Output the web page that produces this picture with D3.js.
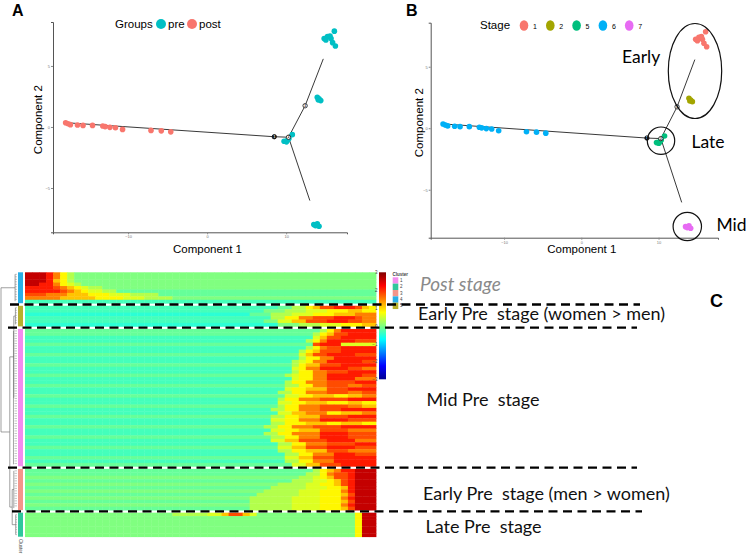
<!DOCTYPE html>
<html>
<head>
<meta charset="utf-8">
<script src="https://cdn.jsdelivr.net/npm/d3@7"></script>
<style>
body { margin: 0; background: #fff; }
svg { display: block; font-family: "Liberation Sans", Arial, sans-serif; }
</style>
</head>
<body>
<svg id="fig" width="748" height="555"></svg>
<script>
// cells placed on the trajectory
var cellX = [-17.9, -17.6, -17.3, -16.4, -15.7, -14.5, -13.2, -12.9, -12.3, -11.6, -10.7, -7.1, -5.8, -4.6,
  9.74, 10.04, 10.35, 10.78, 10.17,
  13.94, 14.16, 14.38, 14.06,
  14.81, 15.23, 15.68, 16.1, 15.88, 16.23, 15.55, 15.03,
  13.5, 13.94, 14.16, 13.72];
var cellY = [0.35, 0.26, 0.19, 0.16, 0.13, 0.13, 0.08, 0.03, -0.03, -0.06, -0.2, -0.28, -0.32, -0.4,
  -1.17, -1.22, -0.95, -0.63, -1.09,
  2.44, 2.3, 2.16, 2.22,
  7.24, 7.4, 7.24, 7.85, 6.91, 6.63, 7.45, 7.12,
  -8.0, -7.94, -8.13, -8.08];
var cellStage = ['6','6','6','6','6','6','6','6','6','6','6','6','6','6',
  '5','5','5','5','5', '2','2','2','2', '1','1','1','1','1','1','1','1', '7','7','7','7'];

var groups = ['pre', 'post'];
var groupColors = ['#00BFC4', '#F8766D'];
var stages = ['1', '2', '5', '6', '7'];
var stageColors = ['#F8766D', '#A3A500', '#00BF7D', '#00B0F6', '#E76BF3'];

// minimum spanning tree backbone
var trunkX = [-17.9, 8.5, 10.3];
var trunkY = [0.35, -0.8, -0.84];
var upperX = [10.3, 12.4, 14.7];
var upperY = [-0.84, 1.74, 5.58];
var lowerX = [10.3, 13.0];
var lowerY = [-0.84, -6.03];
var nodeX = [8.5, 10.3, 12.4];
var nodeY = [-0.8, -0.84, 1.74];
var nodeLabel = ['1', '2', '3'];

var xTicks = [-10, 0, 10];
var yTicks = [-5, 0, 5];

// pseudotime heatmap, one string per gene row, run-length coded levels
var levelValues = {a: -0.5, b: -0.35, c: -0.15, d: 0, e: 0.3, f: 0.55, g: 0.8, h: 1.1, i: 1.5, j: 1.8, k: 2.1, l: 2.6};
var clusterOrder = ['4', '5', '1', '3', '2'];
var clusterNames = ['1', '2', '3', '4', '5'];
var clusterColors = ['#F28DEE', '#2FC79C', '#F4958A', '#2AAFE6', '#B7B02C'];
var rowsCluster4 = [
  'l3k1i1g1e1d43', 'l3k1i1g1e1d43', 'l3k1h1g1e1d43', 'l2k2i1g1f1e1d42',
  'k4j1i1h1g1f1e2d39', 'k5j1i1h1g1f2e2c37', 'j3i3h3g3f3e4c31', 'i5h5g4f3e4d29', 'b50'];
var rowsCluster5 = [
  'b36c2e2g1h1j2k3j1h1g1', 'b34d3e3f3g3h2g2', 'a32c3e3f3g3h3i3',
  'b35e2g2i2j3k3j1i2', 'b34d2f2h2j3k3j2i2', 'a36d3e3f3g3h2'];
var rowsCluster1 = [
  'c42e1g1i1k5', 'c41e1g1h1j2k4', 'b41f1h1j2k5', 'b40e1g1i1k4j3', 'c41j1k3f5',
  'b40e1g1i1j2k5', 'b39e1g1h1j3k5', 'c39f1h1j2k4j3', 'b39e1g2i2k6', 'b38e1f1g1i2k5j2',
  'c38e1g1h2j3k5', 'b38f1g1i2k4j2i2', 'b38e1g2i2j3k4', 'c37e1f1g2i2k5j2', 'b38f1g2i2k4i3',
  'b37e1g2i3j4k3', 'c37e2g2i2j3i2j2', 'b37f1g2h3j3k4', 'b36e2g2i3j3i2j2', 'c37f2g2h3g2h2i2',
  'b36e1g2i3j4k4', 'b36f2g2h3g3h2g2', 'c36e1g2i3j4i2h2', 'b35e2g2i3j3k5', 'b36f2h2i3g2h3i2',
  'c35e2g2h3j4k4', 'b35f2g2i3k4j4', 'b35e2g3h3g2h3g2', 'c34e2g2i3j4k5', 'b35f2g2h3j4i4',
  'b34e2g2i4k4j4', 'c35e2g2i3k4j4', 'b35f2h2j4k4i3', 'b36e2g2i3j4k3', 'c36f2h2j3k4j3',
  'b36e2g2h3j3i4', 'b37e2g2i3k3j3', 'c37f2h2j3k6', 'b37e2g2i3k6', 'c38f2h2j3k5'];
var rowsCluster3 = [
  'c41e1g1h1i1k2l3', 'c40e2g1i1j2k1l3', 'd39e2f1g1h1j2k1l3', 'c38e3f2g1h1j1k1l3',
  'd36e4f2g2h1j1k1l3', 'c35e5f3g2h1k1l3', 'd34e5f3g3i1k1l3', 'c33e6f3g3h1j1l3',
  'd32e6f4g3i1k1l3', 'c32e6f4g3h1j1l3', 'd32e6f4g3i1k1l3', 'c32e6f4g3h1j1l3'];
var rowsCluster2 = [
  'd21e5f2h1j2h1f1d14g1l2', 'd47g1l2', 'd47g1l2', 'd47g1l2', 'd47g1l2', 'd47g1l2', 'd47g1l2'];
var legendTicks = [3, 2, 1, 0, -1, -2, -3];

var stageNotes = ['Post stage', 'Early Pre  stage (women > men)', 'Mid Pre  stage',
  'Early Pre  stage (men > women)', 'Late Pre  stage'];

var svg = d3.select('#fig');

function drawPanel(g, box, colorOf, yDomain, yLabelGap) {
  var x = d3.scaleLinear().domain([-19.5, 17.7]).range([box.left, box.right]);
  var y = d3.scaleLinear().domain(yDomain).range([box.bottom, box.top]);

  g.append('g')
    .attr('transform', 'translate(0,' + box.bottom + ')')
    .call(d3.axisBottom(x).tickValues(xTicks).tickSize(2).tickPadding(1))
    .call(function(a) {
      a.select('.domain').attr('stroke', '#555').attr('stroke-width', 1);
      a.selectAll('.tick line').attr('stroke', '#888');
      a.selectAll('text').attr('fill', '#777').attr('font-size', 4);
    });
  g.append('g')
    .attr('transform', 'translate(' + box.left + ',0)')
    .call(d3.axisLeft(y).tickValues(yTicks).tickSize(2).tickPadding(1))
    .call(function(a) {
      a.select('.domain').attr('stroke', '#555').attr('stroke-width', 1);
      a.selectAll('.tick line').attr('stroke', '#888');
      a.selectAll('text').attr('fill', '#777').attr('font-size', 4);
    });

  var line = d3.line().x(function(d) { return x(d[0]); }).y(function(d) { return y(d[1]); });
  [[trunkX, trunkY], [upperX, upperY], [lowerX, lowerY]].forEach(function(seg) {
    g.append('path')
      .datum(d3.zip(seg[0], seg[1]))
      .attr('d', line)
      .attr('fill', 'none')
      .attr('stroke', '#222')
      .attr('stroke-width', 0.9);
  });

  g.selectAll('.cell')
    .data(d3.range(cellX.length))
    .enter()
    .append('circle')
    .attr('class', 'cell')
    .attr('cx', function(i) { return x(cellX[i]); })
    .attr('cy', function(i) { return y(cellY[i]); })
    .attr('r', 2.8)
    .attr('fill', colorOf);

  nodeX.forEach(function(nx, i) {
    g.append('circle')
      .attr('cx', x(nx)).attr('cy', y(nodeY[i])).attr('r', 2.2)
      .attr('fill', i === 0 ? '#111' : '#fff')
      .attr('stroke', '#111').attr('stroke-width', 0.8);
    g.append('text')
      .attr('x', x(nx)).attr('y', y(nodeY[i]) + 1.2)
      .attr('text-anchor', 'middle').attr('font-size', 3.2).attr('font-weight', 'bold')
      .attr('fill', i === 0 ? '#fff' : '#111')
      .text(nodeLabel[i]);
  });

  g.append('text')
    .attr('x', (box.left + box.right) / 2 + 7.5).attr('y', 253)
    .attr('text-anchor', 'middle').attr('font-size', 11.5)
    .text('Component 1');
  g.append('text')
    .attr('transform', 'translate(' + (box.left - yLabelGap) + ',' + ((box.top + box.bottom) / 2 - 7.5) + ') rotate(-90)')
    .attr('text-anchor', 'middle').attr('font-size', 11.5)
    .text('Component 2');
  return {x: x, y: y};
}

// ---- panel A
var gA = svg.append('g');
var groupScale = d3.scaleOrdinal().domain(groups).range(groupColors);
drawPanel(gA, {left: 53, right: 347, top: 22, bottom: 232.3}, function(i) {
  return groupScale(cellStage[i] === '6' ? 'post' : 'pre');
}, [-8.63, 8.6], 11.3);
gA.append('text').attr('x', 12).attr('y', 15.5).attr('font-size', 16).attr('font-weight', 'bold').text('A');
gA.append('text').attr('x', 115).attr('y', 28).attr('font-size', 11.5).text('Groups');
groups.forEach(function(gr, i) {
  var cx = [161, 192][i];
  gA.append('circle').attr('cx', cx).attr('cy', 24).attr('r', 5).attr('fill', groupScale(gr));
  gA.append('text').attr('x', cx + 7).attr('y', 28).attr('font-size', 11.5).text(gr);
});

// ---- panel B
var gB = svg.append('g');
var stageScale = d3.scaleOrdinal().domain(stages).range(stageColors);
drawPanel(gB, {left: 430.7, right: 718, top: 22.7, bottom: 237.7}, function(i) {
  return stageScale(cellStage[i]);
}, [-8.9, 8.58], 8.2);
gB.append('text').attr('x', 406).attr('y', 15.5).attr('font-size', 16).attr('font-weight', 'bold').text('B');
gB.append('text').attr('x', 480).attr('y', 29).attr('font-size', 11.5).text('Stage');
stages.forEach(function(st, i) {
  var cx = 524 + i * 26.3;
  gB.append('ellipse').attr('cx', cx).attr('cy', 25.5).attr('rx', 4.3).attr('ry', 5.3).attr('fill', stageScale(st));
  gB.append('text').attr('x', cx + 9).attr('y', 28.5).attr('font-size', 7).text(st);
});
// circled stage regions
[[695, 71, 26.7, 47.5], [661, 140.7, 13.7, 13.7], [687.3, 226.5, 14.2, 14.2]].forEach(function(e) {
  gB.append('ellipse').attr('cx', e[0]).attr('cy', e[1]).attr('rx', e[2]).attr('ry', e[3])
    .attr('fill', 'none').attr('stroke', '#111').attr('stroke-width', 1.2);
});
[['Early', 622, 63], ['Late', 691.5, 148], ['Mid', 716.5, 231]].forEach(function(t) {
  gB.append('text').attr('x', t[1]).attr('y', t[2])
    .attr('font-family', 'Lato, "Open Sans", sans-serif').attr('font-size', 17.5).text(t[0]);
});

// ---- panel C heatmap
var gC = svg.append('g');
var clusterRows = {'4': rowsCluster4, '5': rowsCluster5, '1': rowsCluster1, '3': rowsCluster3, '2': rowsCluster2};
var clusterColor = d3.scaleOrdinal().domain(clusterNames).range(clusterColors);

function decodeRow(s) {
  var out = [];
  s.match(/[a-l]\d+/g).forEach(function(run) {
    var v = levelValues[run[0]];
    for (var k = 0; k < +run.slice(1); k++) out.push(v);
  });
  return out;
}

var nCols = 50;
var gapRows = 0.75;
var totalUnits = d3.sum(clusterOrder, function(c) { return clusterRows[c].length; }) + gapRows * (clusterOrder.length - 1);
var rowY = d3.scaleLinear().domain([0, totalUnits]).range([272.3, 536.7]);
var colX = d3.scaleBand().domain(d3.range(nCols)).range([25, 376]);
var heat = d3.scaleLinear()
  .domain([-3, -2.25, -0.75, 0.75, 2.25, 3])
  .range(['#00008F', '#0000FF', '#00FFFF', '#FFFF00', '#FF0000', '#800000'])
  .clamp(true);

var blocks = [];
var offset = 0;
clusterOrder.forEach(function(c) {
  var rows = clusterRows[c];
  blocks.push({cluster: c, start: offset, end: offset + rows.length});
  rows.forEach(function(r, ri) {
    var vals = decodeRow(r);
    var y0 = rowY(offset + ri), y1 = rowY(offset + ri + 1);
    gC.append('g').selectAll('rect')
      .data(vals)
      .enter()
      .append('rect')
      .attr('x', function(d, j) { return colX(j); })
      .attr('y', y0)
      .attr('width', colX.bandwidth() + 0.4)
      .attr('height', y1 - y0 + 0.4)
      .attr('fill', function(d) { return heat(d); });
  });
  offset += rows.length + gapRows;
});

// cluster annotation column
blocks.forEach(function(b) {
  gC.append('rect')
    .attr('x', 18).attr('y', rowY(b.start))
    .attr('width', 5).attr('height', rowY(b.end) - rowY(b.start))
    .attr('fill', clusterColor(b.cluster));
});
gC.append('text')
  .attr('transform', 'translate(19,539) rotate(90)')
  .attr('font-size', 4.5).attr('fill', '#444').text('Cluster');

// dendrogram (merge heights on a 0..1 scale)
var dendro = {h: 1, children: [
  {cluster: '4', h: 0.12},
  {h: 0.45, children: [
    {h: 0.2, children: [{cluster: '5', h: 0.1}, {cluster: '1', h: 0.22}]},
    {h: 0.3, children: [{cluster: '3', h: 0.2}, {cluster: '2', h: 0.08}]}
  ]}
]};
var dx = d3.scaleLinear().domain([0, 1]).range([17, 1]);
function placeNode(n) {
  if (n.cluster) {
    var b = blocks.find(function(bb) { return bb.cluster === n.cluster; });
    n.y = (rowY(b.start) + rowY(b.end)) / 2;
    n.top = rowY(b.start) + 2;
    n.bot = rowY(b.end) - 2;
  } else {
    n.children.forEach(placeNode);
    n.y = d3.mean(n.children, function(ch) { return ch.y; });
  }
}
placeNode(dendro);
function drawNode(n) {
  var xn = dx(n.h);
  if (n.cluster) {
    gC.append('line').attr('x1', xn).attr('x2', xn).attr('y1', n.top).attr('y2', n.bot)
      .attr('stroke', '#666').attr('stroke-width', 0.6);
    for (var yy = n.top; yy <= n.bot; yy += 2.5) {
      gC.append('line').attr('x1', Math.max(xn, 14.5)).attr('x2', 17).attr('y1', yy).attr('y2', yy)
        .attr('stroke', '#555').attr('stroke-width', 0.35);
    }
    return;
  }
  var ys = n.children.map(function(ch) { return ch.y; });
  gC.append('line').attr('x1', xn).attr('x2', xn).attr('y1', d3.min(ys)).attr('y2', d3.max(ys))
    .attr('stroke', '#777').attr('stroke-width', 0.7);
  n.children.forEach(function(ch) {
    gC.append('line').attr('x1', xn).attr('x2', dx(ch.h)).attr('y1', ch.y).attr('y2', ch.y)
      .attr('stroke', '#777').attr('stroke-width', 0.7);
    drawNode(ch);
  });
}
drawNode(dendro);

// colour key
var key = d3.scaleLinear().domain([-3, 3]).range([379.3, 272.3]);
var grad = svg.append('defs').append('linearGradient').attr('id', 'keygrad')
  .attr('x1', 0).attr('x2', 0).attr('y1', 1).attr('y2', 0);
heat.domain().forEach(function(v) {
  grad.append('stop').attr('offset', (v + 3) / 6).attr('stop-color', heat(v));
});
gC.append('rect').attr('x', 379).attr('y', key(3)).attr('width', 7).attr('height', key(-3) - key(3))
  .attr('fill', 'url(#keygrad)');
gC.append('g')
  .attr('transform', 'translate(379,0)')
  .call(d3.axisLeft(key).tickValues(legendTicks).tickFormat(d3.format('d')).tickSize(0).tickPadding(1.5))
  .call(function(a) {
    a.select('.domain').remove();
    a.selectAll('text').attr('font-size', 4.5).attr('fill', '#444');
  });

// cluster key
gC.append('text').attr('x', 392.5).attr('y', 276).attr('font-size', 4.5).attr('font-weight', 'bold')
  .attr('fill', '#444').text('Cluster');
clusterNames.forEach(function(c, i) {
  gC.append('rect').attr('x', 392.7).attr('y', 277.3 + i * 6.35).attr('width', 5.6).attr('height', 6.35)
    .attr('fill', clusterColor(c));
  gC.append('text').attr('x', 400).attr('y', 282 + i * 6.35).attr('font-size', 4.5).attr('fill', '#444').text(c);
});

// stage boundaries
var dashExtent = [[10, 640], [8, 637], [8, 637], [12, 642]];
blocks.slice(1).forEach(function(b, i) {
  var yy = rowY(b.start - gapRows / 2);
  gC.append('line')
    .attr('x1', dashExtent[i][0]).attr('x2', dashExtent[i][1]).attr('y1', yy).attr('y2', yy)
    .attr('stroke', '#000').attr('stroke-width', 2.4).attr('stroke-dasharray', '9,5.5');
});

var noteY = [291, 320, 406, 500, 532.5];
var noteX = [420, 418, 426.5, 423, 425.5];
stageNotes.forEach(function(t, i) {
  gC.append('text')
    .attr('x', noteX[i]).attr('y', noteY[i])
    .style('white-space', 'pre')
    .attr('font-family', 'Lato, "Open Sans", sans-serif')
    .attr('font-size', i === 0 ? 19 : 18)
    .attr('font-style', i === 0 ? 'italic' : 'normal')
    .attr('fill', i === 0 ? '#8a8a8a' : '#111')
    .text(t);
});
gC.append('text').attr('x', 710).attr('y', 307).attr('font-size', 18).attr('font-weight', 'bold').text('C');
</script>
</body>
</html>
